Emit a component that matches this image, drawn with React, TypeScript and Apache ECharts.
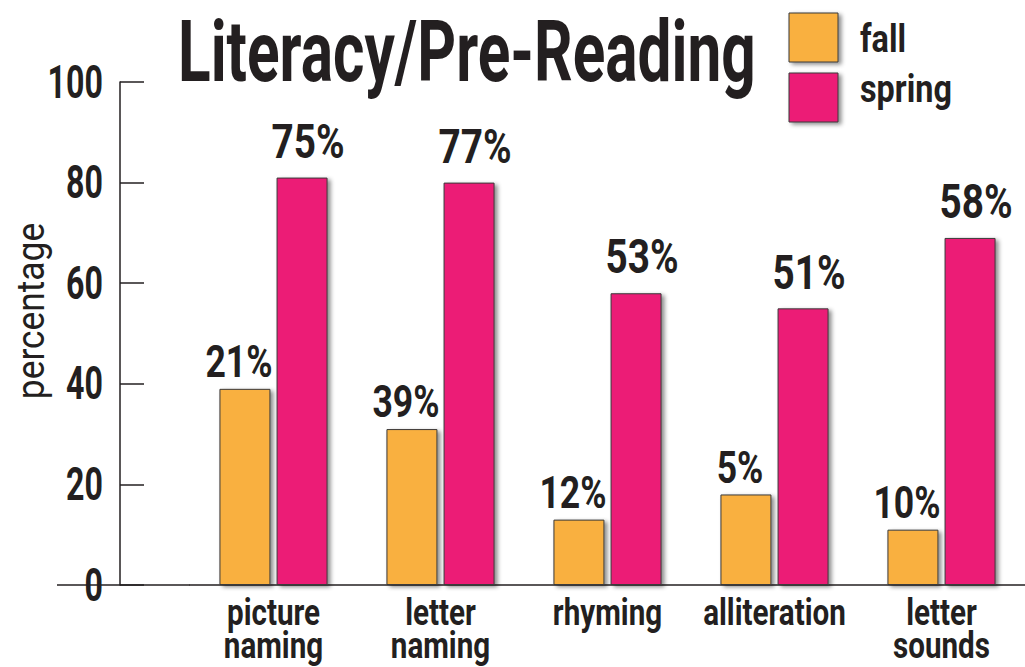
import React, { useEffect, useRef } from "react";
import * as echarts from "echarts";

const categories = ["picture\nnaming", "letter\nnaming", "rhyming", "alliteration", "letter\nsounds"];
const fallValues = [39, 31, 13, 18, 11];
const springValues = [81, 80, 58, 55, 69];
const fallLabels = ["21%", "39%", "12%", "5%", "10%"];
const springLabels = ["75%", "77%", "53%", "51%", "58%"];
const yTicks = [0, 20, 40, 60, 80, 100];
const seriesNames = ["fall", "spring"];
const titleText = "Literacy/Pre-Reading";
const yAxisName = "percentage";

const FONT = "Roboto, 'Liberation Sans', sans-serif";
const INK = "#231f20";
const FALL = "#f9b040";
const SPRING = "#ec1c76";
const BORDER = "#3a3a3a";
const SHADOW = { shadowColor: "rgba(0,0,0,0.45)", shadowBlur: 4, shadowOffsetX: 3, shadowOffsetY: 2 };

function boldText(text: string, fontSize: number, align: string, vAlign: string, lineHeight?: number) {
  return {
    text,
    fontFamily: FONT,
    fontWeight: "bold",
    fontSize,
    lineHeight: lineHeight || fontSize,
    fill: INK,
    align,
    verticalAlign: vAlign,
  };
}

export default function App() {
  const ref = useRef<HTMLDivElement>(null);
  useEffect(() => {
    if (!ref.current) return;
    const chart = echarts.init(ref.current, null, { renderer: "svg" });

    const valueLabelSeries = (values: number[], labels: string[], dx: number, gap: number, fontSize: number) => ({
      type: "custom",
      silent: true,
      clip: false,
      z: 5,
      data: values.map((v, i) => [i, v]),
      encode: { x: 0, y: 1 },
      renderItem: (params: any, api: any) => {
        const p = api.coord([api.value(0), api.value(1)]);
        return {
          type: "text",
          x: p[0] + dx,
          y: p[1] - gap,
          scaleX: 0.79,
          style: boldText(labels[params.dataIndex], fontSize, "center", "bottom"),
        };
      },
    });

    chart.setOption({
      animation: false,
      backgroundColor: "#ffffff",
      textStyle: { fontFamily: FONT, color: INK },
      grid: { left: 190, right: 0, top: 82, bottom: 82, containLabel: false, outerBoundsMode: "none" },
      graphic: [
        {
          type: "text",
          x: 178,
          y: 52,
          scaleX: 0.71,
          style: boldText(titleText, 85, "left", "middle"),
        },
        {
          type: "text",
          x: 31,
          y: 311,
          rotation: Math.PI / 2,
          scaleX: 0.93,
          style: { text: yAxisName, fontFamily: FONT, fontSize: 38, fill: INK, align: "center", verticalAlign: "middle" },
        },
        {
          type: "rect",
          shape: { x: 789, y: 13, width: 49, height: 49 },
          style: { fill: FALL, stroke: BORDER, lineWidth: 1, ...SHADOW },
        },
        {
          type: "rect",
          shape: { x: 789, y: 73, width: 49, height: 49 },
          style: { fill: SPRING, stroke: BORDER, lineWidth: 1, ...SHADOW },
        },
        { type: "text", x: 860, y: 39, scaleX: 0.83, style: boldText(seriesNames[0], 39, "left", "middle") },
        { type: "text", x: 860, y: 89, scaleX: 0.83, style: boldText(seriesNames[1], 39, "left", "middle") },
        {
          type: "line",
          shape: { x1: 57, y1: 585, x2: 190, y2: 585 },
          style: { stroke: INK, lineWidth: 1.5 },
        },
      ],
      xAxis: {
        type: "category",
        data: categories,
        axisLine: { lineStyle: { color: INK, width: 1.5 } },
        axisTick: { show: false },
        axisLabel: { show: false },
      },
      yAxis: {
        type: "value",
        min: 0,
        max: 100,
        interval: 20,
        offset: 70,
        axisLine: { show: true, lineStyle: { color: INK, width: 1.5 } },
        axisTick: { show: true, inside: true, length: 24, lineStyle: { color: INK, width: 1.5 } },
        splitLine: { show: false },
        axisLabel: { show: false },
      },
      series: [
        {
          name: seriesNames[0],
          type: "bar",
          data: fallValues,
          barWidth: 51,
          barGap: "12%",
          itemStyle: { color: FALL, borderColor: BORDER, borderWidth: 1, ...SHADOW },
        },
        {
          name: seriesNames[1],
          type: "bar",
          data: springValues,
          barWidth: 51,
          itemStyle: { color: SPRING, borderColor: BORDER, borderWidth: 1, ...SHADOW },
        },
        valueLabelSeries(fallValues, fallLabels, -34.5, 5, 45),
        valueLabelSeries(springValues, springLabels, 34.5, 12, 49),
        {
          type: "custom",
          silent: true,
          clip: false,
          data: categories.map((c, i) => [i, 0]),
          encode: { x: 0, y: 1 },
          renderItem: (params: any, api: any) => {
            const p = api.coord([api.value(0), 0]);
            return {
              type: "text",
              x: p[0],
              y: p[1] + 11,
              scaleX: 0.8,
              style: boldText(categories[params.dataIndex], 37, "center", "top", 33),
            };
          },
        },
        {
          type: "custom",
          silent: true,
          clip: false,
          data: yTicks.map((v) => [0, v]),
          encode: { x: 0, y: 1 },
          renderItem: (params: any, api: any) => {
            const p = api.coord([0, api.value(1)]);
            return {
              type: "text",
              x: params.coordSys.x - 87,
              y: p[1],
              scaleX: 0.7,
              style: boldText(String(yTicks[params.dataIndex]), 46, "right", "middle"),
            };
          },
        },
      ],
    });
    return () => chart.dispose();
  }, []);
  return <div ref={ref} style={{ position: "fixed", left: 0, top: 0, width: 1025, height: 667 }} />;
}
